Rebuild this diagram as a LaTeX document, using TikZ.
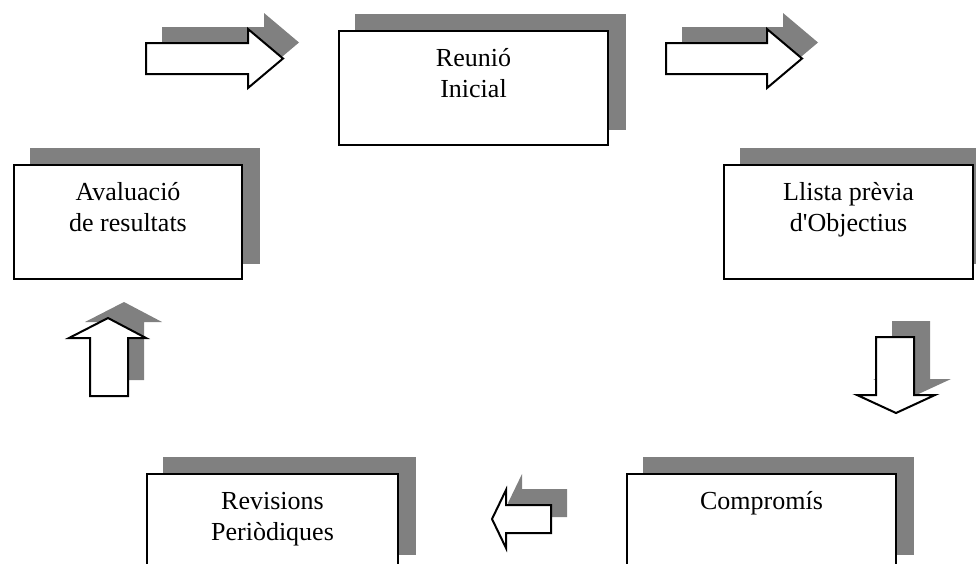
\documentclass[tikz,border=0pt]{standalone}
\usepackage{fontspec}
\setmainfont{Liberation Serif}
\usetikzlibrary{backgrounds}

\definecolor{shadowgray}{HTML}{808080}

\tikzset{
  stagebox/.style={draw=black, fill=white, line width=2pt, rectangle,
    inner sep=0pt, anchor=north west},
  stagetext/.style={anchor=north, inner sep=0pt, align=center,
    font=\fontsize{26}{31}\selectfont},
  boxshadow/.style={fill=shadowgray},
  arrowbody/.style={draw=black, fill=white, line width=2pt},
  arrowshadow/.style={fill=shadowgray, shift={(16,-16)}}
}

% block arrow with its drop shadow
\newcommand\blockarrow[1]{%
  \fill[arrowshadow] #1;
  \draw[arrowbody] #1;}

\begin{document}
\begin{tikzpicture}[x=1pt, y=-1pt]
  \useasboundingbox (0,0) rectangle (976,563);
  \clip (0,0) rectangle (976,563);

  % stage boxes
  \node[stagebox, minimum width=269pt, minimum height=114pt] (reunio) at (338,30) {};
  \node[stagebox, minimum width=228pt, minimum height=114pt] (avaluacio) at (13,164) {};
  \node[stagebox, minimum width=249pt, minimum height=114pt] (llista) at (723,164) {};
  \node[stagebox, minimum width=269pt, minimum height=96pt] (compromis) at (626,473) {};
  \node[stagebox, minimum width=251pt, minimum height=96pt] (revisions) at (146,473) {};

  % drop shadows behind the boxes
  \begin{scope}[on background layer]
    \foreach \b in {reunio, avaluacio, llista, compromis, revisions}
      \fill[boxshadow] ([shift={(17,-16)}]\b.south west) rectangle ([shift={(17,-16)}]\b.north east);
  \end{scope}

  % box labels
  \node[stagetext] (reunioText) at ([yshift=-10pt]reunio.north) {\rule{0pt}{26pt}Reunió\\Inicial};
  \node[stagetext] (avaluacioText) at ([yshift=-10pt]avaluacio.north) {\rule{0pt}{26pt}Avaluació\\de resultats};
  \node[stagetext] (llistaText) at ([yshift=-10pt]llista.north) {\rule{0pt}{26pt}Llista prèvia\\d\textquotesingle Objectius};
  \node[stagetext] (compromisText) at ([yshift=-10pt]compromis.north) {\rule{0pt}{26pt}Compromís};
  \node[stagetext] (revisionsText) at ([yshift=-10pt]revisions.north) {\rule{0pt}{26pt}Revisions\\Periòdiques};

  % block arrows between the stages
  \blockarrow{(146,43) -- (248,43) -- (248,29) -- (283,58.5) -- (248,88) -- (248,74) -- (146,74) -- cycle}
  \blockarrow{(666,43) -- (767,43) -- (767,29) -- (802,58.5) -- (767,88) -- (767,74) -- (666,74) -- cycle}
  \blockarrow{(876,337) -- (914,337) -- (914,395) -- (935,395) -- (896,413) -- (857,395) -- (876,395) -- cycle}
  \blockarrow{(551,505) -- (551,533) -- (506,533) -- (506,548) -- (492,519) -- (506,490) -- (506,505) -- cycle}
  \blockarrow{(90,396) -- (90,338) -- (69,338) -- (108,318) -- (146,338) -- (128,338) -- (128,396) -- cycle}
\end{tikzpicture}
\end{document}
